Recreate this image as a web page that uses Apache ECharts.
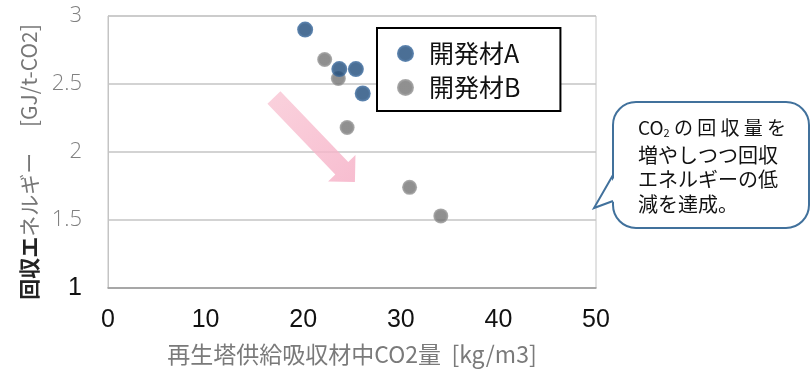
<!DOCTYPE html>
<html>
<head>
<meta charset="utf-8">
<script src="https://cdn.jsdelivr.net/npm/echarts@6/dist/echarts.min.js"></script>
<style>
  html, body { margin: 0; padding: 0; background: #fff; }
  #chart { width: 810px; height: 372px; }
</style>
</head>
<body>
<div id="chart"></div>
<script>
// Regenerator feed CO2 loading [kg/m3] vs. regeneration energy [GJ/t-CO2]
const materialA = [
  [20.2, 2.90],
  [23.7, 2.61],
  [25.4, 2.61],
  [26.1, 2.43]
];
const materialB = [
  [22.2, 2.68],
  [23.6, 2.54],
  [24.5, 2.18],
  [30.9, 1.74],
  [34.1, 1.53]
];
const seriesNames = ['開発材A', '開発材B'];
const xTicks = { min: 0, max: 50, step: 10 };
const yTicks = { min: 1, max: 3, step: 0.5 };

// Trend arrow, tail and tip in data coordinates
const trendArrow = { from: [17.0, 2.40], to: [25.3, 1.78] };

const calloutLines = ['増やしつつ回収', 'エネルギーの低', '減を達成。'];

const CJK = '"Noto Sans CJK JP", "Noto Sans", sans-serif';
const NUM = '"Liberation Sans", "DejaVu Sans", sans-serif';

const chart = echarts.init(document.getElementById('chart'));

function dot(inner, outer) {
  return {
    type: 'radial', x: 0.5, y: 0.5, r: 0.5,
    colorStops: [{ offset: 0, color: inner }, { offset: 0.7, color: inner }, { offset: 1, color: outer }]
  };
}

chart.setOption({
  animation: false,
  backgroundColor: '#ffffff',
  grid: {
    left: 108, right: 214, top: 16, bottom: 84,
    outerBoundsMode: 'none',
    containLabel: false,
    show: true, borderColor: '#c4c4c4', borderWidth: 1
  },
  legend: {
    data: seriesNames,
    orient: 'vertical',
    left: 377, top: 28,
    padding: [13, 40, 11, 20],
    itemGap: 9,
    itemWidth: 17, itemHeight: 17,
    icon: 'circle',
    borderColor: '#000', borderWidth: 2,
    backgroundColor: '#fff',
    textStyle: { fontFamily: CJK, fontSize: 25, color: '#111', lineHeight: 25, padding: [0, 0, 0, 10] }
  },
  xAxis: {
    type: 'value',
    min: xTicks.min, max: xTicks.max, interval: xTicks.step,
    name: '再生塔供給吸収材中CO2量  [kg/m3]',
    nameLocation: 'middle', nameGap: 55,
    nameTextStyle: { fontFamily: CJK, fontSize: 23, color: '#7a7a7a' },
    axisLine: { show: true, lineStyle: { color: '#9a9a9a', width: 1.5 } },
    axisTick: { show: false },
    splitLine: { show: false },
    axisLabel: { fontFamily: NUM, fontSize: 25, color: '#111', margin: 20 }
  },
  yAxis: {
    type: 'value',
    min: yTicks.min, max: yTicks.max, interval: yTicks.step,
    name: '{b|回収エ}{g|ネルギー　 [GJ/t-CO2]}',
    nameLocation: 'middle', nameGap: 68,
    nameTextStyle: {
      padding: [0, 20, 0, 0],
      rich: {
        b: { fontFamily: CJK, fontSize: 21, fontWeight: 'bold', color: '#222' },
        g: { fontFamily: CJK, fontSize: 21, color: '#777' }
      }
    },
    axisLine: { show: true, lineStyle: { color: '#c4c4c4', width: 1 } },
    axisTick: { show: false },
    splitLine: { show: true, lineStyle: { color: '#c4c4c4', width: 1.5 } },
    axisLabel: {
      margin: 26,
      formatter: function (v) { return v === 1 ? '{k|1}' : '{g|' + v + '}'; },
      rich: {
        k: { fontFamily: NUM, fontSize: 25, color: '#111' },
        g: { fontFamily: '"Open Sans", "DejaVu Sans", sans-serif', fontSize: 22, color: '#808080', fontWeight: 300 }
      }
    }
  },
  series: [
    {
      name: seriesNames[1],
      type: 'scatter',
      symbolSize: 15,
      data: materialB,
      z: 3,
      itemStyle: { color: dot('#747474', '#9a9a9a') }
    },
    {
      name: seriesNames[0],
      type: 'scatter',
      symbolSize: 16,
      data: materialA,
      z: 4,
      itemStyle: { color: dot('#1e4b7b', '#3a6ca3') }
    }
  ]
});

// Pink block arrow along the trend, built from data coordinates
const p0 = chart.convertToPixel({ gridIndex: 0 }, trendArrow.from);
const p1 = chart.convertToPixel({ gridIndex: 0 }, trendArrow.to);
const dx = p1[0] - p0[0], dy = p1[1] - p0[1];
const len = Math.sqrt(dx * dx + dy * dy);
const ux = dx / len, uy = dy / len;     // along the arrow
const nx = -uy, ny = ux;                // across the arrow
const shaftHalf = 9, headLen = 19, headHalf = 19;
const bx = p1[0] - ux * headLen, by = p1[1] - uy * headLen;
const arrowPts = [
  [p0[0] + nx * shaftHalf, p0[1] + ny * shaftHalf],
  [bx + nx * shaftHalf, by + ny * shaftHalf],
  [bx + nx * headHalf, by + ny * headHalf],
  [p1[0], p1[1]],
  [bx - nx * headHalf, by - ny * headHalf],
  [bx - nx * shaftHalf, by - ny * shaftHalf],
  [p0[0] - nx * shaftHalf, p0[1] - ny * shaftHalf]
];

const textBase = { fontFamily: CJK, fontSize: 20, fill: '#111' };
const bubbleBlue = '#41719c';

chart.setOption({
  graphic: [
    {
      type: 'polygon',
      shape: { points: arrowPts },
      z: 1,
      style: {
        fill: {
          type: 'linear', x: 0, y: 0, x2: 1, y2: 1,
          colorStops: [
            { offset: 0, color: 'rgba(248,190,206,0.7)' },
            { offset: 1, color: 'rgba(246,178,200,0.85)' }
          ]
        }
      }
    },
    // speech bubble body
    {
      type: 'rect',
      shape: { x: 613, y: 102, width: 196, height: 126, r: 23 },
      z: 10,
      style: { fill: '#ffffff', stroke: bubbleBlue, lineWidth: 2 }
    },
    // tail: white patch over the border, then its two edges
    {
      type: 'polygon',
      shape: { points: [[616, 175], [594, 208], [616, 201]] },
      z: 11,
      style: { fill: '#ffffff' }
    },
    {
      type: 'polyline',
      shape: { points: [[613, 175], [594, 208], [613, 201]] },
      z: 12,
      style: { fill: null, stroke: bubbleBlue, lineWidth: 2 }
    },
    {
      type: 'text', left: 638, top: 118, z: 13,
      style: {
        text: '{n|CO}{s|2}{n| の 回 収 量 を}',
        rich: {
          n: { fontFamily: CJK, fontSize: 19, fill: '#111', color: '#111' },
          s: { fontFamily: CJK, fontSize: 11, fill: '#111', color: '#111', padding: [10, 0, 0, 0] }
        }
      }
    },
    { type: 'text', left: 638, top: 145, z: 13, style: Object.assign({ text: calloutLines[0] }, textBase) },
    { type: 'text', left: 638, top: 169, z: 13, style: Object.assign({ text: calloutLines[1] }, textBase) },
    { type: 'text', left: 638, top: 194, z: 13, style: Object.assign({ text: calloutLines[2] }, textBase) }
  ]
});
</script>
</body>
</html>
